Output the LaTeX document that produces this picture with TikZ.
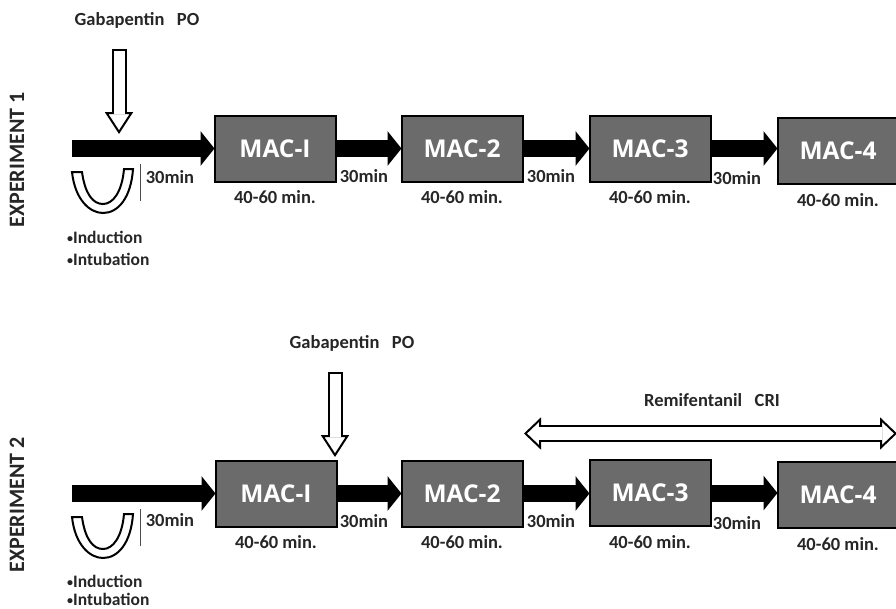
\documentclass[tikz,border=0pt]{standalone}
\usepackage{fontspec}
\setmainfont{Carlito}
\newfontfamily\macfont{Open Sans}
\usetikzlibrary{positioning, arrows.meta}
\newcommand{\listdot}{{\fontsize{12}{14}\selectfont\raisebox{1pt}{•}}}

\begin{document}
\begin{tikzpicture}[
    x=1pt, y=-1pt, node distance=9pt,
    macbox/.style={draw=black, line width=2pt, fill=black!58, text=white, minimum width=121pt, minimum height=66pt, inner sep=0pt, outer sep=0pt, font=\macfont\bfseries\fontsize{24.5}{28}\selectfont},
    label/.style={inner sep=0pt, font=\bfseries\fontsize{18.5}{22}\selectfont, text=black!85},
    listlabel/.style={label, anchor=west, font=\bfseries\fontsize{17.5}{20}\selectfont},
    exptitle/.style={label, rotate=90, font=\bfseries\fontsize{22}{26}\selectfont},
    blockarrow/.style={draw=black, line width=17pt, -{Triangle[length=14pt, width=34pt]}},
    whitearrow/.style={draw=black, line width=15pt, -{Triangle[length=22pt, width=28pt, fill=white, line width=2pt]},
        postaction={draw=white, line width=11pt, -, shorten <=2pt, shorten >=20pt}},
    whitedouble/.style={draw=black, line width=17pt, {Triangle[length=17pt, width=32pt, fill=white, line width=2pt]}-{Triangle[length=17pt, width=32pt, fill=white, line width=2pt]},
        postaction={draw=white, line width=13pt, -, shorten <=15pt, shorten >=15pt}},
    cupshape/.style={draw=black, line width=2pt, fill=white},
    timebar/.style={draw=black!70, line width=0.8pt}
]
    \useasboundingbox (0,0) rectangle (896,608);

    \node[exptitle] (title1) at (17,160) {EXPERIMENT 1};
    \node[label] (gaba1) at (137,20) {Gabapentin\ \ \ PO};

    \node[macbox] (mac1a) at (275,148.5) {MAC-I};
    \node[macbox] (mac2a) at (462,148.5) {MAC-2};
    \node[macbox] (mac3a) at (650,148.5) {MAC-3};
    \node[macbox] (mac4a) at (838,151) {MAC-4};

    \node[label, below=of mac1a] (dur1a) {40-60 min.};
    \node[label, below=of mac2a] (dur2a) {40-60 min.};
    \node[label, below=of mac3a] (dur3a) {40-60 min.};
    \node[label, below=of mac4a] (dur4a) {40-60 min.};

    \coordinate (start1) at (72,148.5);
    \coordinate (gabatop1) at (119,49);
    \coordinate (gabatip1) at (119,134);
    \coordinate (bartop1) at (140,164);
    \coordinate (barend1) at (140,201);

    \draw[blockarrow] (start1) -- (mac1a.west);
    \draw[blockarrow] (mac1a.east) -- (mac2a.west);
    \draw[blockarrow] (mac2a.east) -- (mac3a.west);
    \draw[blockarrow] (mac3a.east) -- (mac3a.east -| mac4a.west);
    \draw[whitearrow] (gabatop1) -- (gabatip1);
    \draw[timebar] (bartop1) -- (barend1);
    \draw[cupshape] (72,172) .. controls (75,200) and (90,213) .. (103,213) .. controls (118,213) and (131,198) .. (133,169)
        -- (124,169) .. controls (122,192) and (113,204) .. (103,204) .. controls (93,204) and (85,194) .. (82,172) -- cycle;

    \node[label] (wait0a) at (170,177) {30min};
    \node[label] (wait1a) at (364,176) {30min};
    \node[label] (wait2a) at (551,176) {30min};
    \node[label] (wait3a) at (737,178) {30min};
    \node[listlabel] (induct1) at (67,237) {\listdot Induction};
    \node[listlabel] (intub1) at (67,259) {\listdot Intubation};

    \node[exptitle] (title2) at (17,505) {EXPERIMENT 2};
    \node[label] (gaba2) at (352,343) {Gabapentin\ \ \ PO};
    \node[label] (remi) at (712,400) {Remifentanil\ \ \ CRI};

    \node[macbox] (mac1b) at (276,493.5) {MAC-I};
    \node[macbox] (mac2b) at (462,493.5) {MAC-2};
    \node[macbox] (mac3b) at (650,493) {MAC-3};
    \node[macbox] (mac4b) at (838,495) {MAC-4};

    \node[label, below=of mac1b] (dur1b) {40-60 min.};
    \node[label, below=of mac2b] (dur2b) {40-60 min.};
    \node[label, below=of mac3b] (dur3b) {40-60 min.};
    \node[label, below=of mac4b] (dur4b) {40-60 min.};

    \coordinate (start2) at (72,493.5);
    \coordinate (gabatop2) at (335,372);
    \coordinate (gabatip2) at (335,457);
    \coordinate (remileft) at (524,433.5);
    \coordinate (remiright) at (897,433.5);
    \coordinate (bartop2) at (140,509);
    \coordinate (barend2) at (140,546);

    \draw[blockarrow] (start2) -- (mac1b.west);
    \draw[blockarrow] (mac1b.east) -- (mac2b.west);
    \draw[blockarrow] (mac2b.east) -- (mac2b.east -| mac3b.west);
    \draw[blockarrow] (mac3b.east) -- (mac3b.east -| mac4b.west);
    \draw[whitearrow] (gabatop2) -- (gabatip2);
    \draw[whitedouble] (remileft) -- (remiright);
    \draw[timebar] (bartop2) -- (barend2);
    \draw[cupshape] (72,517) .. controls (75,545) and (90,558) .. (103,558) .. controls (118,558) and (131,543) .. (133,514)
        -- (124,514) .. controls (122,537) and (113,549) .. (103,549) .. controls (93,549) and (85,539) .. (82,517) -- cycle;

    \node[label] (wait0b) at (170,520) {30min};
    \node[label] (wait1b) at (364,521) {30min};
    \node[label] (wait2b) at (551,521) {30min};
    \node[label] (wait3b) at (737,523) {30min};
    \node[listlabel] (induct2) at (67,581) {\listdot Induction};
    \node[listlabel] (intub2) at (67,599) {\listdot Intubation};
\end{tikzpicture}
\end{document}
